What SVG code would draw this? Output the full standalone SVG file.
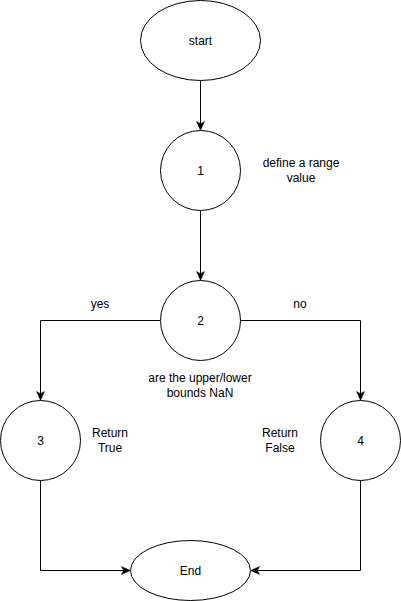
<svg xmlns="http://www.w3.org/2000/svg" width="401" height="601" viewBox="0 0 401 601">
<defs>
<style>
.n{fill:#fff;stroke:#000;stroke-width:1}
.e{fill:none;stroke:#000;stroke-width:1}
text{font-family:"Liberation Sans",Arial,sans-serif;font-size:12px;fill:#000;text-anchor:middle;dominant-baseline:central}
</style>
<marker id="a" viewBox="0 0 10 10" refX="9" refY="5" markerWidth="9" markerHeight="9" markerUnits="userSpaceOnUse" orient="auto">
<path d="M0,0.5 L10,5 L0,9.5 L2.5,5 Z" fill="#000" stroke="#000" stroke-width="0.5"/>
</marker>
</defs>
<rect width="401" height="601" fill="#fff"/>
<g id="connectors">
<path class="e" d="M200.5,80.5 V129.5" marker-end="url(#a)"/>
<path class="e" d="M200.5,210.5 V279.5" marker-end="url(#a)"/>
<path class="e" d="M160.5,320.5 H40.5 V399.5" marker-end="url(#a)"/>
<path class="e" d="M240.5,320.5 H360.5 V399.5" marker-end="url(#a)"/>
<path class="e" d="M40.5,480.5 V570.5 H129.5" marker-end="url(#a)"/>
<path class="e" d="M360.5,480.5 V570.5 H251.5" marker-end="url(#a)"/>
</g>
<g id="start"><ellipse class="n" cx="200.5" cy="40.5" rx="60" ry="40"/><text x="200.5" y="40.5">start</text></g>
<g id="node1"><circle class="n" cx="200.5" cy="170.5" r="40"/><text x="200.5" y="170.5">1</text></g>
<g id="label1"><text x="301" y="163">define a range</text><text x="301" y="178">value</text></g>
<g id="node2"><circle class="n" cx="200.5" cy="320.5" r="40"/><text x="200.5" y="320.5">2</text></g>
<g id="label2"><text x="200" y="378">are the upper/lower</text><text x="200" y="393">bounds NaN</text></g>
<g id="yes"><text x="100" y="304">yes</text></g>
<g id="no"><text x="300" y="304">no</text></g>
<g id="node3"><circle class="n" cx="40.5" cy="440.5" r="40"/><text x="40.5" y="440.5">3</text></g>
<g id="label3"><text x="110" y="433">Return</text><text x="110" y="448">True</text></g>
<g id="node4"><circle class="n" cx="360.5" cy="440.5" r="40"/><text x="360.5" y="440.5">4</text></g>
<g id="label4"><text x="280" y="433">Return</text><text x="280" y="448">False</text></g>
<g id="end"><ellipse class="n" cx="190.5" cy="570.5" rx="60" ry="30"/><text x="190.5" y="570.5">End</text></g>
</svg>
